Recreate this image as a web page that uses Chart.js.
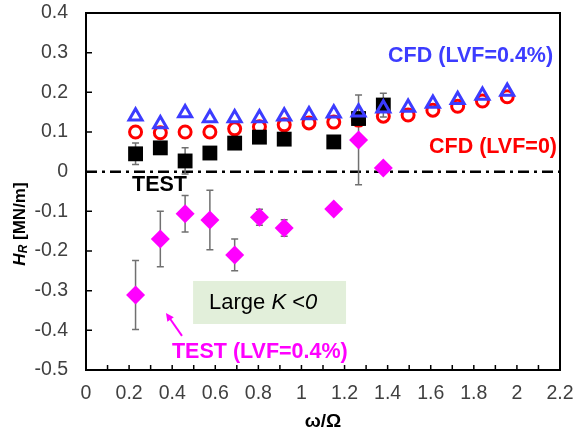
<!DOCTYPE html>
<html lang="en">
<head>
<meta charset="utf-8" />
<title>Restoring force H_R</title>
<script src="https://cdn.jsdelivr.net/npm/chart.js@4.4.0/dist/chart.umd.min.js"></script>
<style>
  html, body { margin: 0; padding: 0; background: #fff; }
  #wrap { width: 574px; height: 436px; }
</style>
</head>
<body>
<div id="wrap"><canvas id="hrChart" width="574" height="436"></canvas></div>
<script>
// axis ticks
const xTicks = [0, 0.2, 0.4, 0.6, 0.8, 1, 1.2, 1.4, 1.6, 1.8, 2, 2.2];
const xTickLabels = ["0", "0.2", "0.4", "0.6", "0.8", "1", "1.2", "1.4", "1.6", "1.8", "2", "2.2"];
const yTicks = [-0.5, -0.4, -0.3, -0.2, -0.1, 0, 0.1, 0.2, 0.3, 0.4];
const yTickLabels = ["-0.5", "-0.4", "-0.3", "-0.2", "-0.1", "0", "0.1", "0.2", "0.3", "0.4"];

// CFD results
const freqCfd = [0.23, 0.345, 0.46, 0.575, 0.69, 0.805, 0.92, 1.035, 1.15, 1.265, 1.38, 1.495, 1.61, 1.725, 1.84, 1.955];
const cfdLvf04 = [0.140, 0.120, 0.148, 0.135, 0.135, 0.135, 0.140, 0.143, 0.147, 0.150, 0.160, 0.162, 0.172, 0.181, 0.192, 0.202];
const cfdLvf0 = [0.100, 0.098, 0.100, 0.100, 0.108, 0.113, 0.118, 0.123, 0.125, 0.130, 0.140, 0.143, 0.155, 0.165, 0.178, 0.189];

// measurements, LVF = 0
const freqTest0 = [0.23, 0.345, 0.46, 0.575, 0.69, 0.805, 0.92, 1.15, 1.265, 1.38];
const testLvf0 = [0.045, 0.060, 0.027, 0.047, 0.072, 0.087, 0.082, 0.075, 0.134, 0.168];
const testLvf0Err = [0.027, 0, 0.033, 0, 0, 0, 0, 0, 0, 0.030];

// measurements, LVF = 0.4%
const freqTest04 = [0.23, 0.345, 0.46, 0.575, 0.69, 0.805, 0.92, 1.15, 1.265, 1.38];
const testLvf04 = [-0.311, -0.170, -0.106, -0.122, -0.210, -0.115, -0.142, -0.094, 0.080, 0.009];
const testLvf04Err = [0.087, 0.070, 0.046, 0.075, 0.040, 0.020, 0.021, 0, 0.113, 0];

const FONT = '"Liberation Sans", Arial, sans-serif';

function pts(xs, ys) {
  return xs.map((x, i) => ({ x: x, y: ys[i] }));
}

// draws a run of [text, font, dy] pieces starting at (x, y)
function drawRuns(ctx, runs, x, y) {
  runs.forEach(([text, font, dy]) => {
    ctx.font = font;
    ctx.fillText(text, x, y + (dy || 0));
    x += ctx.measureText(text).width;
  });
}

const decorations = {
  id: 'decorations',
  beforeDatasetsDraw(chart) {
    const { ctx, scales: { x, y } } = chart;
    ctx.save();
    // zero line
    const y0 = y.getPixelForValue(0);
    ctx.strokeStyle = '#000';
    ctx.lineWidth = 2.5;
    ctx.setLineDash([11, 5, 3, 5]);
    ctx.beginPath();
    ctx.moveTo(x.left, y0);
    ctx.lineTo(x.right, y0);
    ctx.stroke();
    ctx.setLineDash([]);

    // error bars
    ctx.strokeStyle = '#707070';
    ctx.lineWidth = 1.5;
    [[freqTest0, testLvf0, testLvf0Err], [freqTest04, testLvf04, testLvf04Err]].forEach(([xs, ys, es]) => {
      xs.forEach((xv, i) => {
        if (!es[i]) return;
        const px = x.getPixelForValue(xv);
        const top = y.getPixelForValue(ys[i] + es[i]);
        const bot = y.getPixelForValue(ys[i] - es[i]);
        ctx.beginPath();
        ctx.moveTo(px, top); ctx.lineTo(px, bot);
        ctx.moveTo(px - 3.5, top); ctx.lineTo(px + 3.5, top);
        ctx.moveTo(px - 3.5, bot); ctx.lineTo(px + 3.5, bot);
        ctx.stroke();
      });
    });
    ctx.restore();
  },
  afterDraw(chart) {
    const { ctx, scales: { x, y } } = chart;
    ctx.save();

    // frame and inward ticks
    ctx.strokeStyle = '#000';
    ctx.lineWidth = 2;
    ctx.strokeRect(x.left, y.top, x.right - x.left, y.bottom - y.top);
    ctx.lineWidth = 1.5;
    ctx.beginPath();
    for (let i = 1; i < xTicks.length; i++) {
      [xTicks[i - 1] + (xTicks[i] - xTicks[i - 1]) / 2, xTicks[i]].forEach(v => {
        if (v >= 2.2) return;
        const px = x.getPixelForValue(v);
        ctx.moveTo(px, y.bottom);
        ctx.lineTo(px, y.bottom - 5);
      });
    }
    yTicks.slice(1, -1).forEach(v => {
      const py = y.getPixelForValue(v);
      ctx.moveTo(x.left, py);
      ctx.lineTo(x.left + 6, py);
    });
    ctx.stroke();

    // series annotations
    ctx.textBaseline = 'middle';
    ctx.textAlign = 'left';
    const bold = 'bold 21.5px ' + FONT;
    const put = (text, color, xv, yv) => {
      ctx.font = bold;
      ctx.fillStyle = color;
      ctx.fillText(text, x.getPixelForValue(xv), y.getPixelForValue(yv));
    };
    put('CFD (LVF=0.4%)', '#3c3cff', 1.402, 0.292);
    put('CFD (LVF=0)', '#ff0000', 1.592, 0.062);
    put('TEST', '#000', 0.2135, -0.034);
    put('TEST (LVF=0.4%)', '#ff00ff', 0.399, -0.4545);

    // "Large K <0" box
    const bx0 = x.getPixelForValue(0.497), bx1 = x.getPixelForValue(1.207);
    const by0 = y.getPixelForValue(-0.2755), by1 = y.getPixelForValue(-0.384);
    ctx.fillStyle = '#e2efda';
    ctx.fillRect(bx0, by0, bx1 - bx0, by1 - by0);
    ctx.fillStyle = '#000';
    drawRuns(ctx, [
      ['Large ', '22px ' + FONT],
      ['K', 'italic 22px ' + FONT],
      [' <', '22px ' + FONT],
      ['0', 'italic 22px ' + FONT]
    ], x.getPixelForValue(0.571), y.getPixelForValue(-0.330));

    // arrow pointing at the LVF=0.4% measurements
    const ax0 = x.getPixelForValue(0.4456), ay0 = y.getPixelForValue(-0.414);
    const ax1 = x.getPixelForValue(0.371), ay1 = y.getPixelForValue(-0.356);
    const ang = Math.atan2(ay1 - ay0, ax1 - ax0);
    ctx.strokeStyle = '#ff00ff';
    ctx.fillStyle = '#ff00ff';
    ctx.lineWidth = 2;
    ctx.beginPath();
    ctx.moveTo(ax0, ay0);
    ctx.lineTo(ax1 - 5 * Math.cos(ang), ay1 - 5 * Math.sin(ang));
    ctx.stroke();
    ctx.beginPath();
    ctx.moveTo(ax1, ay1);
    ctx.lineTo(ax1 - 9 * Math.cos(ang - 0.45), ay1 - 9 * Math.sin(ang - 0.45));
    ctx.lineTo(ax1 - 9 * Math.cos(ang + 0.45), ay1 - 9 * Math.sin(ang + 0.45));
    ctx.closePath();
    ctx.fill();

    // axis titles
    ctx.fillStyle = '#000';
    ctx.textAlign = 'center';
    ctx.font = 'bold 19px ' + FONT;
    ctx.fillText('\u03c9/\u03a9', (x.left + x.right) / 2, 422);

    ctx.translate(20, 224);
    ctx.rotate(-Math.PI / 2);
    ctx.textAlign = 'left';
    const runs = [
      ['H', 'italic bold 17px ' + FONT, 0],
      ['R', 'italic bold 12px ' + FONT, 4],
      [' [MN/m]', 'bold 17px ' + FONT, 0]
    ];
    let w = 0;
    runs.forEach(([t, f]) => { ctx.font = f; w += ctx.measureText(t).width; });
    drawRuns(ctx, runs, -w / 2, 0);
    ctx.restore();
  }
};

const tickFont = { family: FONT, size: 19.5 };

new Chart(document.getElementById('hrChart'), {
  type: 'scatter',
  data: {
    datasets: [
      {
        label: 'CFD (LVF=0.4%)',
        data: pts(freqCfd, cfdLvf04),
        pointStyle: 'triangle',
        pointRadius: 7.5,
        borderColor: '#3c3cff',
        backgroundColor: 'rgba(0,0,0,0)',
        borderWidth: 3
      },
      {
        label: 'TEST (LVF=0)',
        data: pts(freqTest0, testLvf0),
        pointStyle: 'rect',
        pointRadius: 10.5,
        borderColor: '#000',
        backgroundColor: '#000',
        borderWidth: 0
      },
      {
        label: 'CFD (LVF=0)',
        data: pts(freqCfd, cfdLvf0),
        pointStyle: 'circle',
        pointRadius: 6,
        borderColor: '#ff0000',
        backgroundColor: 'rgba(0,0,0,0)',
        borderWidth: 3
      },
      {
        label: 'TEST (LVF=0.4%)',
        data: pts(freqTest04, testLvf04),
        pointStyle: 'rectRot',
        pointRadius: 9.5,
        borderColor: '#ff00ff',
        backgroundColor: '#ff00ff',
        borderWidth: 0
      }
    ]
  },
  options: {
    responsive: false,
    animation: false,
    devicePixelRatio: 1,
    layout: { padding: { top: 13, right: 14, left: 0, bottom: 0 } },
    plugins: { legend: { display: false }, tooltip: { enabled: false } },
    scales: {
      x: {
        type: 'linear',
        min: 0,
        max: 2.2,
        afterBuildTicks: s => { s.ticks = xTicks.map(v => ({ value: v })); },
        afterFit: s => { s.height = 66; s.paddingLeft = 0; s.paddingRight = 0; },
        grid: { display: false, drawTicks: false },
        border: { display: false },
        ticks: {
          font: tickFont,
          color: '#404040',
          padding: 12,
          maxRotation: 0,
          autoSkip: false,
          callback: (v, i) => xTickLabels[i]
        }
      },
      y: {
        type: 'linear',
        min: -0.5,
        max: 0.4,
        afterBuildTicks: s => { s.ticks = yTicks.map(v => ({ value: v })); },
        afterFit: s => { s.width = 86; s.paddingTop = 0; s.paddingBottom = 0; },
        grid: { display: false, drawTicks: false },
        border: { display: false },
        ticks: {
          font: tickFont,
          color: '#404040',
          padding: 18,
          autoSkip: false,
          callback: (v, i) => yTickLabels[i]
        }
      }
    }
  },
  plugins: [decorations]
});
</script>
</body>
</html>
